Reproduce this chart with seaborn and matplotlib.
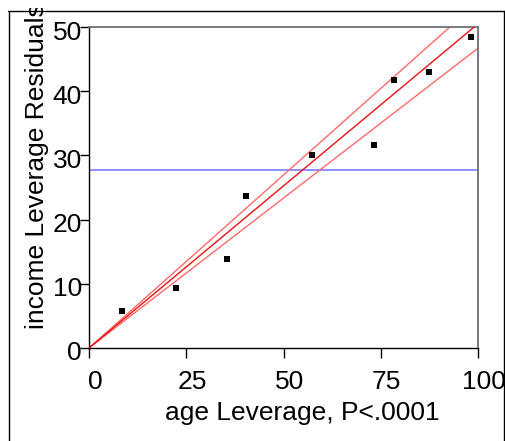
import matplotlib
matplotlib.use("Agg")
import matplotlib.pyplot as plt
import matplotlib.transforms as mtransforms
from matplotlib.lines import Line2D
import seaborn as sns
import pandas as pd

# ---- data ----
age_leverage = [8.5, 22.4, 35.5, 40.4, 57.4, 73.3, 78.5, 87.4, 98.3]
income_leverage_resid = [5.8, 9.35, 13.9, 23.6, 30.0, 31.6, 41.7, 43.0, 48.4]
line_x = [0, 100]
fit_y = [0, 50.5]
upper_y = [0, 53.9]
lower_y = [0, 46.7]
mean_y = 27.7
x_ticks = [0, 25, 50, 75, 100]
y_ticks = [0, 10, 20, 30, 40, 50]

sns.set_style("white")
plt.rcParams['font.family'] = ['Liberation Sans', 'DejaVu Sans']
plt.rcParams['text.color'] = 'black'
plt.rcParams['axes.labelcolor'] = 'black'
plt.rcParams['xtick.color'] = 'black'
plt.rcParams['ytick.color'] = 'black'

W, H = 505, 441
fig = plt.figure(figsize=(W / 100, H / 100), dpi=100)
ax = fig.add_axes([89 / W, 1 - 348 / H, (478 - 89) / W, (348 - 27) / H])

pts = pd.DataFrame({"x": age_leverage, "y": income_leverage_resid})
lines = pd.DataFrame({"x": line_x, "fit": fit_y, "upper": upper_y, "lower": lower_y})

ax.axhline(mean_y, color="#7b7bff", lw=1.2, zorder=1)
sns.lineplot(data=lines, x="x", y="upper", ax=ax, color="#ff6a6a", lw=1.0, zorder=2)
sns.lineplot(data=lines, x="x", y="lower", ax=ax, color="#ff6a6a", lw=1.0, zorder=2)
sns.lineplot(data=lines, x="x", y="fit", ax=ax, color="#ee1111", lw=1.0, zorder=3)
sns.scatterplot(data=pts, x="x", y="y", ax=ax, marker="s", s=14, color="black",
                linewidth=0, zorder=4)

ax.set_xlim(0, 100)
ax.set_ylim(0, 50)
ax.set_xticks(x_ticks)
ax.set_yticks(y_ticks)
ax.set_xticklabels([str(t) for t in x_ticks])
ax.set_yticklabels([str(t) for t in y_ticks])

fs = 19
ax.tick_params(axis="x", direction="out", length=7, width=1, colors="black",
               labelsize=fs, pad=9, bottom=True)
ax.tick_params(axis="y", direction="out", length=6.5, width=1, colors="black",
               labelsize=fs, pad=-1.5, left=True)
for lab in ax.get_xticklabels():
    lab.set_transform(lab.get_transform() + mtransforms.ScaledTranslation(6 / 100, 0, fig.dpi_scale_trans))
for lab in ax.get_yticklabels():
    lab.set_transform(lab.get_transform() + mtransforms.ScaledTranslation(0, -3 / 100, fig.dpi_scale_trans))

for side in ["left", "bottom"]:
    ax.spines[side].set_color("black")
    ax.spines[side].set_linewidth(1.0)
for side in ["top", "right"]:
    ax.spines[side].set_color("#707070")
    ax.spines[side].set_linewidth(1.3)

ax.set_xlabel("age Leverage, P<.0001", fontsize=fs, color="black")
ax.xaxis.label.set_ha("center")
ax.xaxis.label.set_va("top")
ax.xaxis.set_label_coords((302 - 89) / 389, -(401 - 348) / 321)

ax.set_ylabel("income Leverage Residuals", fontsize=fs, color="black")
yl = ax.yaxis.label
yl.set_rotation_mode("default")
yl.set_ha("center")
yl.set_va("bottom")
ax.yaxis.set_label_coords((37 - 89) / 389, (348 - 329) / 321)
yl.set_clip_on(True)
yl.set_clip_box(mtransforms.TransformedBbox(
    mtransforms.Bbox([[0, 0], [1, 1 - 7.5 / H]]), fig.transFigure))

# outer frame lines
fig.add_artist(Line2D([8 / W, 1], [1 - 10.5 / H, 1 - 10.5 / H], transform=fig.transFigure,
                      color="black", lw=1.0))
fig.add_artist(Line2D([9.3 / W, 9.3 / W], [0, 1 - 10.5 / H], transform=fig.transFigure,
                      color="black", lw=1.0))
fig.add_artist(Line2D([503.5 / W, 503.5 / W], [0, 1 - 10.5 / H], transform=fig.transFigure,
                      color="black", lw=1.0))

fig.savefig("out.png", dpi=100)
